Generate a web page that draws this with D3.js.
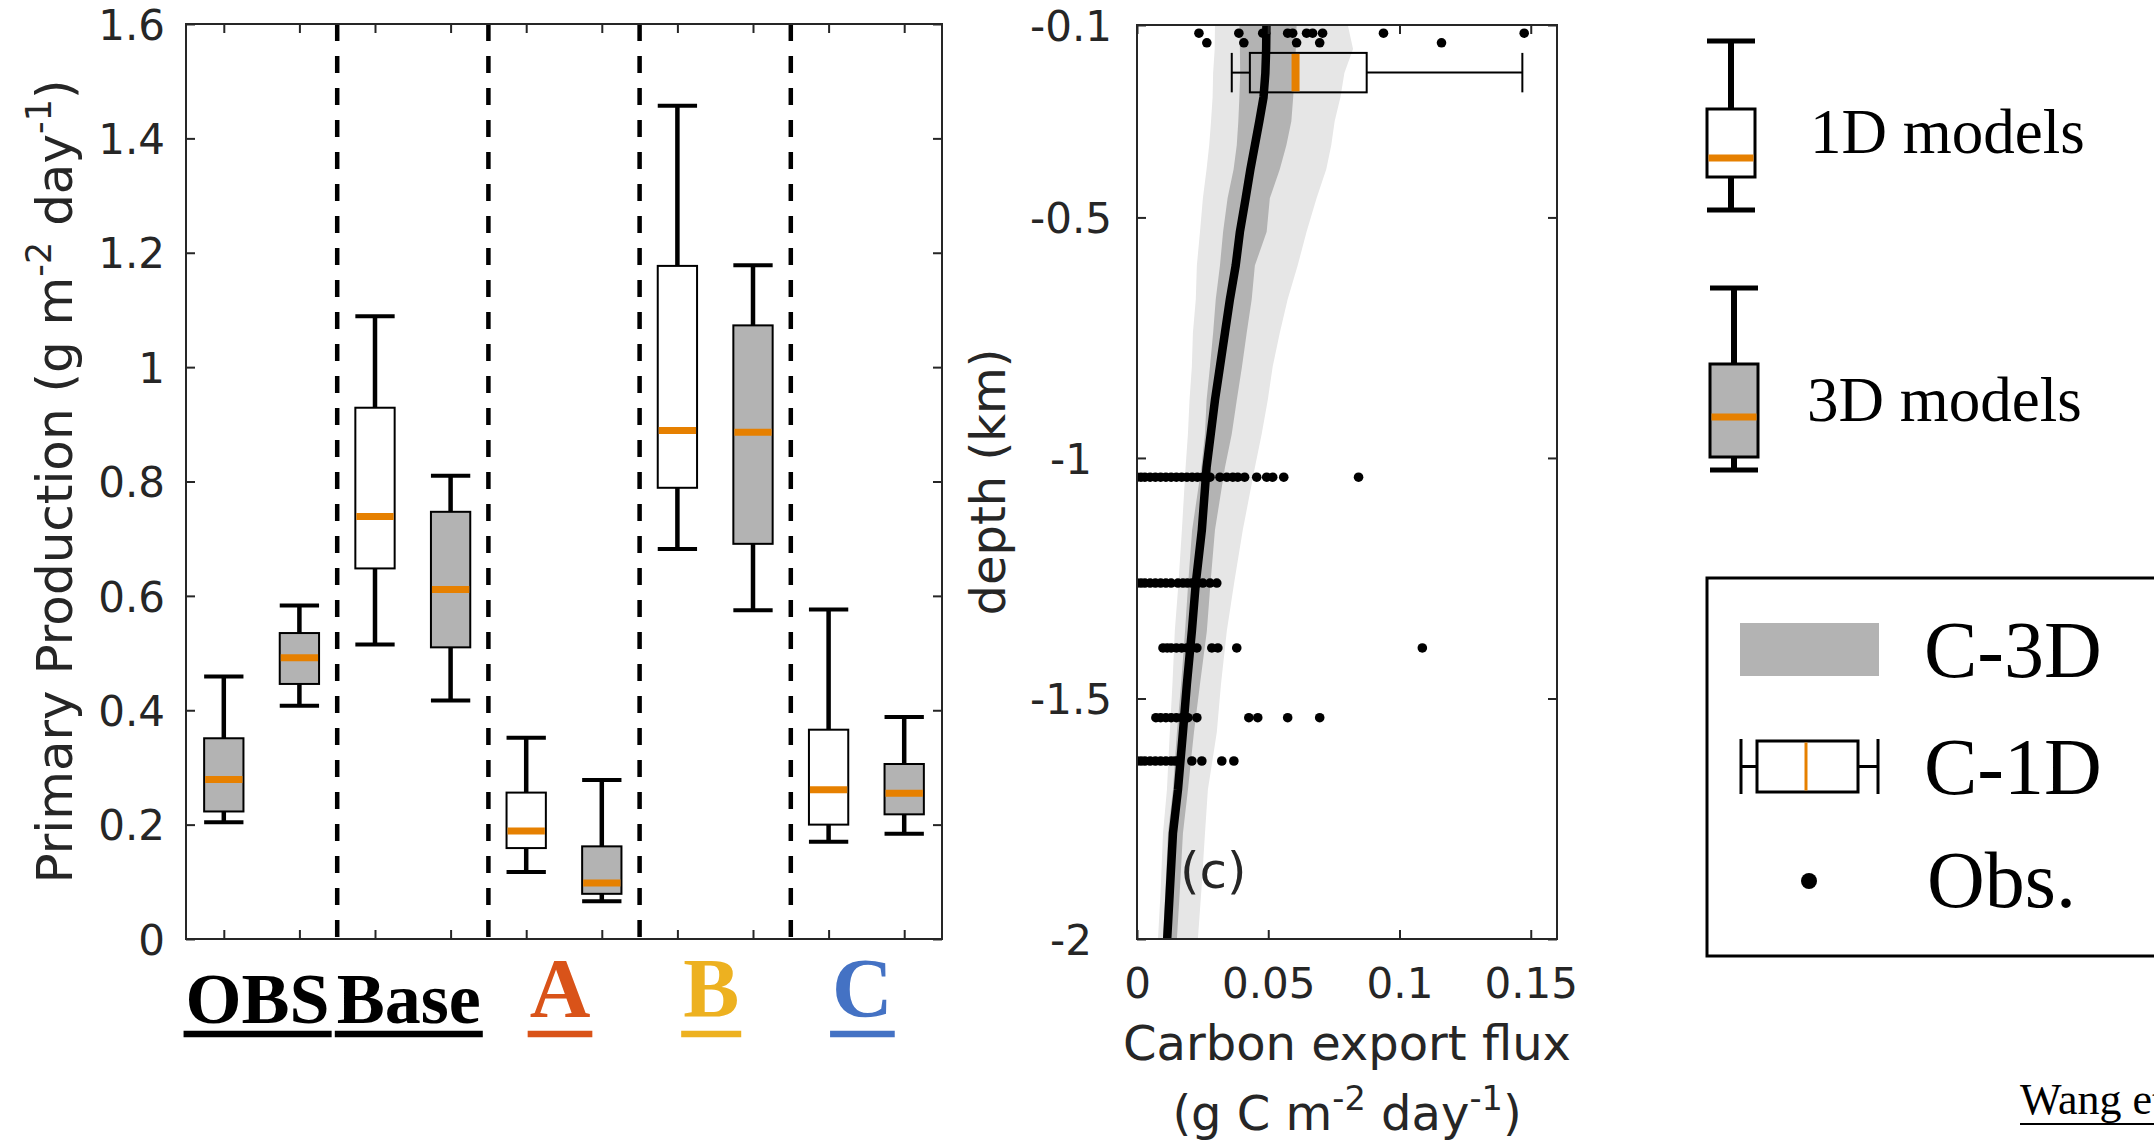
<!DOCTYPE html>
<html>
<head>
<meta charset="utf-8">
<script src="https://cdn.jsdelivr.net/npm/d3@7"></script>
<style>
body { margin: 0; background: #fff; }
svg { display: block; }
</style>
</head>
<body>
<svg id="chart" width="2154" height="1142"></svg>
<script>
// ---- panel 1: primary production boxplots ----
const groups = ['OBS', 'Base', 'A', 'B', 'C']
const groupColors = ['#000000', '#000000', '#d95319', '#edb120', '#4472c4']
const boxModel = ['3D', '3D', '1D', '3D', '1D', '3D', '1D', '3D', '1D', '3D']
const ppHigh = [0.459, 0.583, 1.089, 0.810, 0.352, 0.278, 1.457, 1.178, 0.576, 0.388]
const ppQ3 = [0.351, 0.535, 0.929, 0.747, 0.256, 0.162, 1.177, 1.073, 0.366, 0.306]
const ppMedian = [0.279, 0.492, 0.739, 0.611, 0.189, 0.098, 0.889, 0.886, 0.261, 0.255]
const ppQ1 = [0.223, 0.446, 0.648, 0.510, 0.159, 0.079, 0.789, 0.691, 0.200, 0.218]
const ppLow = [0.204, 0.408, 0.515, 0.417, 0.117, 0.066, 0.682, 0.575, 0.170, 0.184]
const ppTicks = [0, 0.2, 0.4, 0.6, 0.8, 1, 1.2, 1.4, 1.6]

// ---- panel 2: carbon export flux profile ----
const depthLevels = [-0.1, -0.15, -0.2, -0.25, -0.3, -0.35, -0.4, -0.46, -0.53, -0.6, -0.67, -0.74, -0.81, -0.88, -0.95, -1.02, -1.15, -1.26, -1.36, -1.47, -1.57, -1.69, -1.78, -1.9, -2.0]
const fluxMedian = [0.0493, 0.0492, 0.0489, 0.0482, 0.0466, 0.0449, 0.0432, 0.0414, 0.0392, 0.0376, 0.0354, 0.0335, 0.0316, 0.0297, 0.0281, 0.0265, 0.0247, 0.0224, 0.0209, 0.0190, 0.0175, 0.0156, 0.0137, 0.0125, 0.0115]
const fluxDarkLo = [0.0390, 0.0392, 0.0393, 0.0390, 0.0386, 0.0380, 0.0368, 0.0345, 0.0328, 0.0316, 0.0300, 0.0290, 0.0278, 0.0265, 0.0259, 0.0245, 0.0210, 0.0195, 0.0183, 0.0168, 0.0152, 0.0137, 0.0118, 0.0108, 0.0099]
const fluxDarkHi = [0.0608, 0.0605, 0.0600, 0.0595, 0.0588, 0.0569, 0.0544, 0.0506, 0.0494, 0.0449, 0.0437, 0.0418, 0.0400, 0.0380, 0.0361, 0.0335, 0.0297, 0.0280, 0.0266, 0.0240, 0.0217, 0.0194, 0.0175, 0.0163, 0.0152]
const fluxLightLo = [0.0297, 0.0296, 0.0290, 0.0288, 0.0282, 0.0275, 0.0265, 0.0251, 0.0240, 0.0228, 0.0224, 0.0213, 0.0209, 0.0200, 0.0194, 0.0185, 0.0171, 0.0158, 0.0144, 0.0135, 0.0125, 0.0114, 0.0099, 0.0090, 0.0080]
const fluxLightHi = [0.0803, 0.0823, 0.0790, 0.0775, 0.0753, 0.0740, 0.0721, 0.0684, 0.0646, 0.0612, 0.0574, 0.0544, 0.0517, 0.0498, 0.0475, 0.0449, 0.0403, 0.0370, 0.0342, 0.0320, 0.0304, 0.0270, 0.0259, 0.0245, 0.0232]

// 1D model stats for C (horizontal box)
const c1dStats = {low: 0.0361, q1: 0.043, median: 0.0604, q3: 0.0875, high: 0.1468, depth: -0.199, halfDepth: 0.041}

// observations, one row per depth
const obsDepths = [-0.117, -0.137, -1.04, -1.26, -1.395, -1.54, -1.63]
const obsFlux = [
    [0.0236, 0.0388, 0.0479, 0.0490, 0.0574, 0.0593, 0.0646, 0.0669, 0.0707, 0.0939, 0.1475],
    [0.0266, 0.0407, 0.0608, 0.0696, 0.1160],
    [0, 0.0015, 0.003, 0.005, 0.007, 0.009, 0.011, 0.013, 0.015, 0.017, 0.019, 0.021, 0.023, 0.025, 0.0265, 0.0278,
        0.0316, 0.0342, 0.0365, 0.0384, 0.0410, 0.0456, 0.0494, 0.0517, 0.0559, 0.0844],
    [0, 0.0015, 0.003, 0.005, 0.007, 0.009, 0.011, 0.013, 0.0156, 0.0175, 0.0192, 0.0209, 0.0232, 0.0251, 0.0278, 0.0304],
    [0.0099, 0.0115, 0.013, 0.015, 0.017, 0.019, 0.021, 0.0228, 0.0285, 0.0308, 0.0380, 0.1087],
    [0.0072, 0.009, 0.011, 0.013, 0.015, 0.017, 0.0183, 0.0194, 0.0228, 0.0426, 0.0460, 0.0574, 0.0696],
    [0, 0.0015, 0.003, 0.005, 0.007, 0.009, 0.011, 0.013, 0.0145, 0.0156, 0.0209, 0.0247, 0.0323, 0.0369]
]
const ceXTicks = [0, 0.05, 0.1, 0.15]
const ceYTicks = [-0.1, -0.5, -1, -1.5, -2]

// ---- drawing ----
const svg = d3.select('#chart')
const axisColor = '#262626'
const sans = 'DejaVu Sans, Verdana, sans-serif'
const serif = 'Liberation Serif, Times New Roman, serif'
const orange = '#e68000'
const gray = '#b3b3b3'

// panel 1
const xPP = d3.scaleLinear().domain([0.5, 10.5]).range([186, 942])
const yPP = d3.scaleLinear().domain([0, 1.6]).range([939, 24])
const boxHalf = xPP(1.26) - xPP(1)

const p1 = svg.append('g')

// separators between groups
p1.selectAll('line.sep')
    .data(d3.range(1, groups.length))
    .enter()
    .append('line')
    .attr('x1', g => xPP(2 * g + 0.5))
    .attr('x2', g => xPP(2 * g + 0.5))
    .attr('y1', yPP(1.6))
    .attr('y2', yPP(0))
    .attr('stroke', '#000')
    .attr('stroke-width', 4.5)
    .attr('stroke-dasharray', '17,15')

const boxes = p1.selectAll('g.box')
    .data(d3.range(boxModel.length))
    .enter()
    .append('g')

boxes.each(function (i) {
    const g = d3.select(this)
    const cx = xPP(i + 1)
    const line = (x1, y1, x2, y2, w) => g.append('line')
        .attr('x1', x1).attr('y1', y1).attr('x2', x2).attr('y2', y2)
        .attr('stroke', '#000').attr('stroke-width', w)
    line(cx, yPP(ppHigh[i]), cx, yPP(ppQ3[i]), 4.5)
    line(cx, yPP(ppQ1[i]), cx, yPP(ppLow[i]), 4.5)
    line(cx - boxHalf, yPP(ppHigh[i]), cx + boxHalf, yPP(ppHigh[i]), 4)
    line(cx - boxHalf, yPP(ppLow[i]), cx + boxHalf, yPP(ppLow[i]), 4)
    g.append('rect')
        .attr('x', cx - boxHalf)
        .attr('y', yPP(ppQ3[i]))
        .attr('width', 2 * boxHalf)
        .attr('height', yPP(ppQ1[i]) - yPP(ppQ3[i]))
        .attr('fill', boxModel[i] === '3D' ? gray : '#fff')
        .attr('stroke', '#000')
        .attr('stroke-width', 2)
    g.append('line')
        .attr('x1', cx - boxHalf + 1).attr('x2', cx + boxHalf - 1)
        .attr('y1', yPP(ppMedian[i])).attr('y2', yPP(ppMedian[i]))
        .attr('stroke', orange).attr('stroke-width', 7)
})

const styleAxis = (g, hideText) => {
    g.select('.domain').remove()
    g.selectAll('line').attr('stroke', axisColor).attr('stroke-width', 2)
    g.selectAll('text').attr('fill', axisColor).attr('font-family', sans).attr('font-size', 42)
    if (hideText) g.selectAll('text').remove()
}

const fmt = d => String(+d.toFixed(2))

p1.append('g').attr('transform', `translate(${xPP.range()[0]},0)`)
    .call(d3.axisLeft(yPP).tickValues(ppTicks).tickSize(-9).tickPadding(21).tickFormat(fmt))
    .call(g => styleAxis(g))
    .selectAll('text').attr('dy', '0.36em')
p1.append('g').attr('transform', `translate(${xPP.range()[1]},0)`)
    .call(d3.axisRight(yPP).tickValues(ppTicks).tickSize(-9))
    .call(g => styleAxis(g, true))
p1.append('g').attr('transform', `translate(0,${yPP.range()[0]})`)
    .call(d3.axisBottom(xPP).tickValues(d3.range(1, 11)).tickSize(-9))
    .call(g => styleAxis(g, true))
p1.append('g').attr('transform', `translate(0,${yPP.range()[1]})`)
    .call(d3.axisTop(xPP).tickValues(d3.range(1, 11)).tickSize(-9))
    .call(g => styleAxis(g, true))
p1.append('rect')
    .attr('x', xPP.range()[0]).attr('y', yPP.range()[1])
    .attr('width', xPP.range()[1] - xPP.range()[0])
    .attr('height', yPP.range()[0] - yPP.range()[1])
    .attr('fill', 'none').attr('stroke', axisColor).attr('stroke-width', 2)

// y label with superscripts
const supLabel = (sel, parts, size) => {
    const sup = size * 0.7
    const rise = size * 0.42
    parts.forEach(([t, isSup], k) => {
        const prevSup = k > 0 && parts[k - 1][1]
        const ts = sel.append('tspan').text(t)
        if (isSup) ts.attr('font-size', sup).attr('dy', -rise)
        else if (prevSup) ts.attr('dy', rise)
    })
}

const ppLabel = p1.append('text')
    .attr('transform', `translate(72,${(yPP.range()[0] + yPP.range()[1]) / 2}) rotate(-90)`)
    .attr('text-anchor', 'middle')
    .attr('font-family', sans).attr('font-size', 50).attr('fill', axisColor)
supLabel(ppLabel, [['Primary Production (g m'], ['-2', true], [' day'], ['-1', true], [')']], 50)

// group labels below the axis
groups.forEach((name, gi) => {
    const cx = (xPP(2 * gi + 1) + xPP(2 * gi + 2)) / 2 - 4
    const big = gi >= 2
    const t = p1.append('text')
        .attr('x', cx)
        .attr('y', big ? 1017 : 1023)
        .attr('text-anchor', 'middle')
        .attr('font-family', serif)
        .attr('font-weight', 'bold')
        .attr('font-size', big ? 84 : 72)
        .attr('fill', groupColors[gi])
        .text(name)
    const w = t.node().getComputedTextLength()
    p1.append('line')
        .attr('x1', cx - w / 2 - 2).attr('x2', cx + w / 2 + 2)
        .attr('y1', 1034).attr('y2', 1034)
        .attr('stroke', groupColors[gi]).attr('stroke-width', 6.5)
})

// panel 2
const xCE = d3.scaleLinear().domain([0, 0.16]).range([1137, 1557])
const yCE = d3.scaleLinear().domain([-2, -0.1]).range([939, 25])
const p2 = svg.append('g')

svg.append('clipPath').attr('id', 'clip2')
    .append('rect')
    .attr('x', xCE.range()[0]).attr('y', yCE.range()[1])
    .attr('width', xCE.range()[1] - xCE.range()[0])
    .attr('height', yCE.range()[0] - yCE.range()[1])

const plot2 = p2.append('g').attr('clip-path', 'url(#clip2)')
const idx = d3.range(depthLevels.length)

const band = (lo, hi) => d3.area()
    .y(i => yCE(depthLevels[i]))
    .x0(i => xCE(lo[i]))
    .x1(i => xCE(hi[i]))

plot2.append('path').datum(idx).attr('d', band(fluxLightLo, fluxLightHi)).attr('fill', '#e6e6e6')
plot2.append('path').datum(idx).attr('d', band(fluxDarkLo, fluxDarkHi)).attr('fill', gray)
plot2.append('path').datum(idx)
    .attr('d', d3.line().x(i => xCE(fluxMedian[i])).y(i => yCE(depthLevels[i])))
    .attr('fill', 'none').attr('stroke', '#000').attr('stroke-width', 8.5)
    .attr('stroke-linejoin', 'round')

const obsPoints = obsDepths.flatMap((dep, r) => obsFlux[r].map(f => ({dep, f})))
plot2.selectAll('circle.obs')
    .data(obsPoints)
    .enter()
    .append('circle')
    .attr('cx', d => xCE(d.f))
    .attr('cy', d => yCE(d.dep))
    .attr('r', 4.8)
    .attr('fill', '#000')

// horizontal box for 1D models
const by0 = yCE(c1dStats.depth + c1dStats.halfDepth)
const by1 = yCE(c1dStats.depth - c1dStats.halfDepth)
const byc = yCE(c1dStats.depth)
const hbox = plot2.append('g').attr('stroke', '#000').attr('stroke-width', 2)
hbox.append('line').attr('x1', xCE(c1dStats.low)).attr('x2', xCE(c1dStats.q1)).attr('y1', byc).attr('y2', byc)
hbox.append('line').attr('x1', xCE(c1dStats.q3)).attr('x2', xCE(c1dStats.high)).attr('y1', byc).attr('y2', byc)
hbox.append('line').attr('x1', xCE(c1dStats.low)).attr('x2', xCE(c1dStats.low)).attr('y1', by0).attr('y2', by1)
hbox.append('line').attr('x1', xCE(c1dStats.high)).attr('x2', xCE(c1dStats.high)).attr('y1', by0).attr('y2', by1)
hbox.append('rect')
    .attr('x', xCE(c1dStats.q1)).attr('y', by0)
    .attr('width', xCE(c1dStats.q3) - xCE(c1dStats.q1)).attr('height', by1 - by0)
    .attr('fill', 'none')
hbox.append('line')
    .attr('x1', xCE(c1dStats.median)).attr('x2', xCE(c1dStats.median))
    .attr('y1', by0 + 1).attr('y2', by1 - 1)
    .attr('stroke', orange).attr('stroke-width', 8)

p2.append('g').attr('transform', `translate(${xCE.range()[0]},0)`)
    .call(d3.axisLeft(yCE).tickValues(ceYTicks).tickSize(-9).tickFormat(fmt))
    .call(g => styleAxis(g))
    .selectAll('text')
    .attr('text-anchor', 'middle')
    .attr('x', 1071 - xCE.range()[0])
    .attr('dy', '0.36em')
p2.append('g').attr('transform', `translate(${xCE.range()[1]},0)`)
    .call(d3.axisRight(yCE).tickValues(ceYTicks).tickSize(-9))
    .call(g => styleAxis(g, true))
p2.append('g').attr('transform', `translate(0,${yCE.range()[0]})`)
    .call(d3.axisBottom(xCE).tickValues(ceXTicks).tickSize(-9).tickPadding(0).tickFormat(fmt))
    .call(g => styleAxis(g))
    .selectAll('text').attr('dy', null).attr('y', 59)
p2.append('g').attr('transform', `translate(0,${yCE.range()[1]})`)
    .call(d3.axisTop(xCE).tickValues(ceXTicks).tickSize(-9))
    .call(g => styleAxis(g, true))
p2.append('rect')
    .attr('x', xCE.range()[0]).attr('y', yCE.range()[1])
    .attr('width', xCE.range()[1] - xCE.range()[0])
    .attr('height', yCE.range()[0] - yCE.range()[1])
    .attr('fill', 'none').attr('stroke', axisColor).attr('stroke-width', 2)

const ceMid = (xCE.range()[0] + xCE.range()[1]) / 2
p2.append('text')
    .attr('transform', `translate(1005,${(yCE.range()[0] + yCE.range()[1]) / 2}) rotate(-90)`)
    .attr('text-anchor', 'middle')
    .attr('font-family', sans).attr('font-size', 48).attr('fill', axisColor)
    .text('depth (km)')
p2.append('text')
    .attr('x', ceMid).attr('y', 1060)
    .attr('text-anchor', 'middle')
    .attr('font-family', sans).attr('font-size', 48).attr('fill', axisColor)
    .text('Carbon export flux')
const ceUnit = p2.append('text')
    .attr('x', ceMid).attr('y', 1130)
    .attr('text-anchor', 'middle')
    .attr('font-family', sans).attr('font-size', 48).attr('fill', axisColor)
supLabel(ceUnit, [['(g C m'], ['-2', true], [' day'], ['-1', true], [')']], 48)
p2.append('text')
    .attr('x', 1180).attr('y', 888)
    .attr('font-family', sans).attr('font-size', 50).attr('fill', axisColor)
    .text('(c)')

// ---- legends ----
const leg = svg.append('g')
const boxGlyph = (cx, half, capTop, boxTop, med, boxBot, capBot, fill) => {
    const g = leg.append('g')
    g.append('line').attr('x1', cx).attr('x2', cx).attr('y1', capTop).attr('y2', boxTop).attr('stroke', '#000').attr('stroke-width', 6)
    g.append('line').attr('x1', cx).attr('x2', cx).attr('y1', boxBot).attr('y2', capBot).attr('stroke', '#000').attr('stroke-width', 6)
    g.append('line').attr('x1', cx - half).attr('x2', cx + half).attr('y1', capTop).attr('y2', capTop).attr('stroke', '#000').attr('stroke-width', 5)
    g.append('line').attr('x1', cx - half).attr('x2', cx + half).attr('y1', capBot).attr('y2', capBot).attr('stroke', '#000').attr('stroke-width', 5)
    g.append('rect').attr('x', cx - half).attr('y', boxTop).attr('width', 2 * half).attr('height', boxBot - boxTop)
        .attr('fill', fill).attr('stroke', '#000').attr('stroke-width', 3)
    g.append('line').attr('x1', cx - half + 1.5).attr('x2', cx + half - 1.5).attr('y1', med).attr('y2', med)
        .attr('stroke', orange).attr('stroke-width', 7)
}
boxGlyph(1731, 24, 41, 109, 158, 177, 210, '#fff')
boxGlyph(1734, 24, 288, 364, 417, 457, 470, gray)

const legText = (x, y, size, txt) => leg.append('text')
    .attr('x', x).attr('y', y)
    .attr('font-family', serif).attr('font-size', size).attr('fill', '#000')
    .text(txt)
legText(1810, 153, 63, '1D models')
legText(1807, 421, 63, '3D models')

leg.append('rect')
    .attr('x', 1707).attr('y', 578).attr('width', 520).attr('height', 378)
    .attr('fill', 'none').attr('stroke', '#000').attr('stroke-width', 3)
leg.append('rect')
    .attr('x', 1740).attr('y', 623).attr('width', 139).attr('height', 53)
    .attr('fill', gray)
const c1 = leg.append('g').attr('stroke', '#000').attr('stroke-width', 3)
c1.append('line').attr('x1', 1741).attr('x2', 1741).attr('y1', 739).attr('y2', 794)
c1.append('line').attr('x1', 1878).attr('x2', 1878).attr('y1', 739).attr('y2', 794)
c1.append('line').attr('x1', 1741).attr('x2', 1757).attr('y1', 766.5).attr('y2', 766.5)
c1.append('line').attr('x1', 1858).attr('x2', 1878).attr('y1', 766.5).attr('y2', 766.5)
c1.append('rect').attr('x', 1757).attr('y', 741).attr('width', 101).attr('height', 51).attr('fill', 'none')
c1.append('line').attr('x1', 1806).attr('x2', 1806).attr('y1', 742.5).attr('y2', 790.5)
    .attr('stroke', orange).attr('stroke-width', 3)
leg.append('circle').attr('cx', 1809).attr('cy', 881).attr('r', 8).attr('fill', '#000')
legText(1924, 677, 80, 'C-3D')
legText(1924, 794, 80, 'C-1D')
legText(1927, 907, 80, 'Obs.')

legText(2020, 1114, 44, 'Wang et al.')
leg.append('line').attr('x1', 2020).attr('x2', 2154).attr('y1', 1124).attr('y2', 1124)
    .attr('stroke', '#000').attr('stroke-width', 2)
</script>
</body>
</html>
